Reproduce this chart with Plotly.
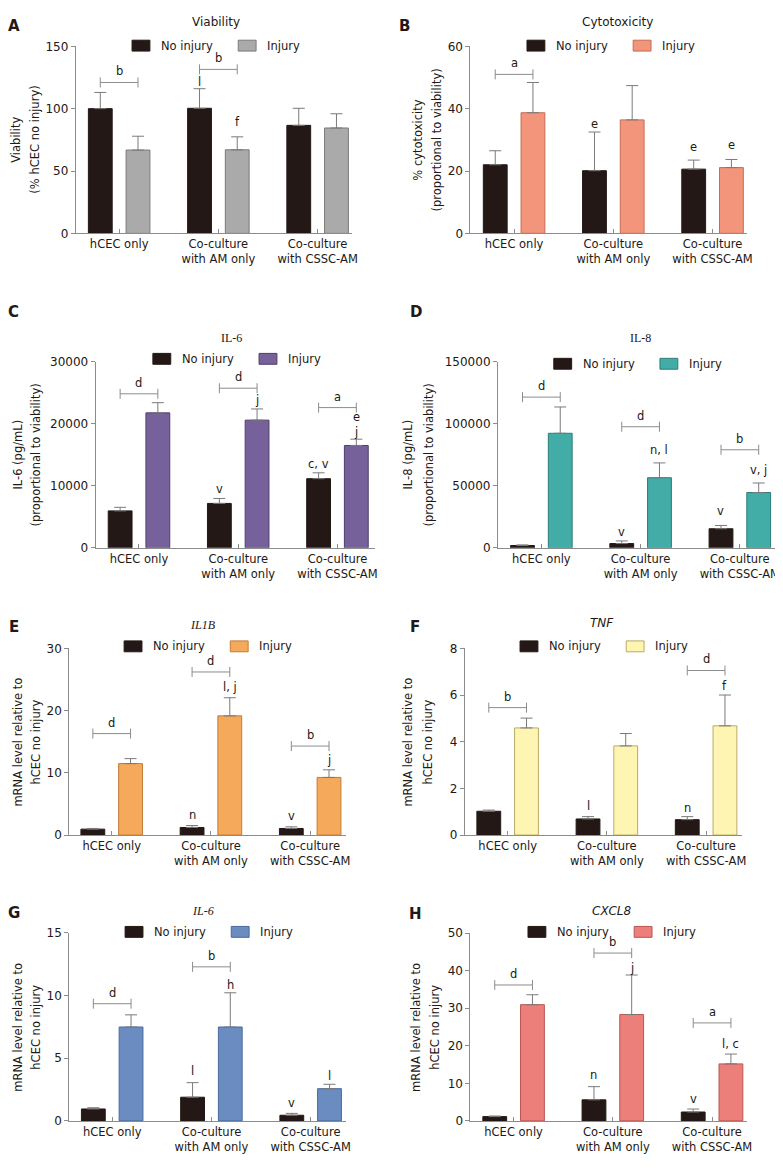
import plotly.graph_objects as go

W, H = 783, 1169

# ---------------- data ----------------
groups = ["hCEC only", "Co-culture<br>with AM only", "Co-culture<br>with CSSC-AM"]
series_names = ["No injury", "Injury"]

# A Viability
viab_noinj = [100.0, 100.3, 86.6]
viab_noinj_sd = [13.0, 15.7, 13.7]
viab_inj = [66.8, 67.0, 84.5]
viab_inj_sd = [11.1, 10.4, 11.4]

# B Cytotoxicity
cyto_noinj = [22.0, 20.1, 20.6]
cyto_noinj_sd = [4.5, 12.4, 2.9]
cyto_inj = [38.7, 36.4, 21.1]
cyto_inj_sd = [9.7, 11.0, 2.6]

# C IL-6 protein
il6p_noinj = [5950, 7150, 11130]
il6p_noinj_sd = [570, 800, 950]
il6p_inj = [21730, 20560, 16480]
il6p_inj_sd = [1640, 1800, 1010]

# D IL-8 protein
il8p_noinj = [1850, 3440, 15370]
il8p_noinj_sd = [530, 2120, 2650]
il8p_inj = [92210, 56440, 44520]
il8p_inj_sd = [21190, 11920, 7680]

# E IL1B mRNA
il1b_noinj = [0.95, 1.22, 1.06]
il1b_noinj_sd = [0.11, 0.31, 0.26]
il1b_inj = [11.48, 19.15, 9.26]
il1b_inj_sd = [0.80, 2.91, 1.22]

# F TNF mRNA
tnf_noinj = [1.02, 0.69, 0.66]
tnf_noinj_sd = [0.05, 0.10, 0.13]
tnf_inj = [4.59, 3.82, 4.68]
tnf_inj_sd = [0.42, 0.53, 1.32]

# G IL-6 mRNA
il6m_noinj = [0.95, 1.89, 0.45]
il6m_noinj_sd = [0.10, 1.16, 0.15]
il6m_inj = [7.49, 7.49, 2.57]
il6m_inj_sd = [0.97, 2.73, 0.35]

# H CXCL8 mRNA
cxcl8_noinj = [1.14, 5.61, 2.37]
cxcl8_noinj_sd = [0.16, 3.51, 0.79]
cxcl8_inj = [30.96, 28.33, 15.18]
cxcl8_inj_sd = [2.64, 10.53, 2.62]

# significance brackets: (group, level, label)
brk_A = [(0, 121, "b"), (1, 131.5, "b")]
brk_B = [(0, 51.0, "a")]
brk_C = [(0, 24800, "d"), (1, 25700, "d"), (2, 22580, "a")]
brk_D = [(0, 121330, "d"), (1, 97480, "d"), (2, 78940, "b")]
brk_E = [(0, 16.3, "d"), (1, 26.2, "d"), (2, 14.3, "b")]
brk_F = [(0, 5.46, "b"), (2, 7.05, "d")]
brk_G = [(0, 9.35, "d"), (1, 12.29, "b")]
brk_H = [(0, 36.2, "d"), (1, 44.7, "b"), (2, 26.1, "a")]

# letters above bars: (series, group, level, label)
lab_A = [(0, 1, 121, "l"), (1, 1, 89, "f")]
lab_B = [(0, 1, 35.2, "e"), (0, 2, 27.8, "e"), (1, 2, 28.3, "e")]
lab_C = [(1, 1, 23740, "j"), (0, 1, 9430, "v"), (0, 2, 13510, "c, v"),
         (1, 2, 21090, "e"), (1, 2, 18710, "j")]
lab_D = [(1, 1, 78940, "n, l"), (1, 2, 62500, "v, j"), (0, 1, 12720, "v"), (0, 2, 29680, "v")]
lab_E = [(1, 1, 23.8, "l, j"), (1, 2, 12.06, "j"), (0, 1, 3.28, "n"), (0, 2, 3.0, "v")]
lab_F = [(0, 1, 1.23, "l"), (0, 2, 1.16, "n"), (1, 2, 6.38, "f")]
lab_G = [(1, 1, 10.85, "h"), (0, 1, 3.97, "l"), (0, 2, 1.39, "v"), (1, 2, 3.55, "l")]
lab_H = [(1, 1, 40.8, "j"), (0, 1, 12.1, "n"), (1, 2, 20.4, "l, c"), (0, 2, 5.7, "v")]

# ---------------- styling / layout ----------------
BLACK = "#231815"
TXT = "#231815"
AX = "#8c8c8c"
FONT = "DejaVu Sans"
SERIF = "Liberation Serif"
FS = 11.5

panels = [
    dict(letter="A", title="Viability", tfont=FONT, titalic=False,
         ytitle=["Viability", "(% hCEC no injury)"], ymax=150, dtick=50,
         noinj=viab_noinj, noinj_sd=viab_noinj_sd, inj=viab_inj, inj_sd=viab_inj_sd,
         color="#aaaaaa", edge="#7a7a7a", brk=brk_A, lab=lab_A,
         l=68.3, r=346.7, t=31.7, b=221, g1=112,
         tpos=(210, 7), ytx=(8, 27), lpos=(125, 31), let=(6, 11)),
    dict(letter="B", title="Cytotoxicity", tfont=FONT, titalic=False,
         ytitle=["% cytotoxicity", "(proportional to viability)"], ymax=60, dtick=20,
         noinj=cyto_noinj, noinj_sd=cyto_noinj_sd, inj=cyto_inj, inj_sd=cyto_inj_sd,
         color="#f3957a", edge="#c46d55", brk=brk_B, lab=lab_B,
         l=466, r=745, t=31.7, b=221, g1=510,
         tpos=(614, 7), ytx=(413, 432), lpos=(523, 31), let=(400, 11)),
    dict(letter="C", title="IL-6", tfont=SERIF, titalic=False,
         ytitle=["IL-6 (pg/mL)", "(proportional to viability)"], ymax=30000, dtick=10000,
         noinj=il6p_noinj, noinj_sd=il6p_noinj_sd, inj=il6p_inj, inj_sd=il6p_inj_sd,
         color="#76619b", edge="#4e3f6d", brk=brk_C, lab=lab_C,
         l=88.3, r=370, t=350.7, b=539.3, g1=132,
         tpos=(225, 327), ytx=(10, 28), lpos=(146, 348), let=(6, 301)),
    dict(letter="D", title="IL-8", tfont=SERIF, titalic=False,
         ytitle=["IL-8 (pg/mL)", "(proportional to viability)"], ymax=150000, dtick=50000,
         noinj=il8p_noinj, noinj_sd=il8p_noinj_sd, inj=il8p_inj, inj_sd=il8p_inj_sd,
         color="#42aca7", edge="#2d7c78", brk=brk_D, lab=lab_D,
         l=493.7, r=774, t=350.7, b=539.3, g1=537.5,
         tpos=(637, 327), ytx=(403, 424), lpos=(550, 353), let=(411, 301)),
    dict(letter="E", title="IL1B", tfont=SERIF, titalic=True,
         ytitle=["mRNA level relative to", "hCEC no injury"], ymax=30, dtick=10,
         noinj=il1b_noinj, noinj_sd=il1b_noinj_sd, inj=il1b_inj, inj_sd=il1b_inj_sd,
         color="#f5a95b", edge="#c27b37", brk=brk_E, lab=lab_E,
         l=61.7, r=341, t=641, b=830, g1=104.5,
         tpos=(197, 617), ytx=(10, 28), lpos=(117, 639), let=(6, 619)),
    dict(letter="F", title="TNF", tfont=FONT, titalic=True,
         ytitle=["mRNA level relative to", "hCEC no injury"], ymax=8, dtick=2,
         noinj=tnf_noinj, noinj_sd=tnf_noinj_sd, inj=tnf_inj, inj_sd=tnf_inj_sd,
         color="#fff5b2", edge="#b9aa66", brk=brk_F, lab=lab_F,
         l=460.3, r=740, t=641, b=830, g1=503.5,
         tpos=(599, 615), ytx=(403, 423), lpos=(516, 639), let=(410, 619)),
    dict(letter="G", title="IL-6", tfont=SERIF, titalic=True,
         ytitle=["mRNA level relative to", "hCEC no injury"], ymax=15, dtick=5,
         noinj=il6m_noinj, noinj_sd=il6m_noinj_sd, inj=il6m_inj, inj_sd=il6m_inj_sd,
         color="#6b8cc1", edge="#4a6a9b", brk=brk_G, lab=lab_G,
         l=61.7, r=341, t=929, b=1119.3, g1=105,
         tpos=(197, 907), ytx=(10, 28), lpos=(118, 928), let=(6, 909)),
    dict(letter="H", title="CXCL8", tfont=FONT, titalic=True,
         ytitle=["mRNA level relative to", "hCEC no injury"], ymax=50, dtick=10,
         noinj=cxcl8_noinj, noinj_sd=cxcl8_noinj_sd, inj=cxcl8_inj, inj_sd=cxcl8_inj_sd,
         color="#ec7f79", edge="#b95651", brk=brk_H, lab=lab_H,
         l=466, r=745, t=929.3, b=1119.3, g1=509.5,
         tpos=(608, 907), ytx=(411, 430), lpos=(524, 928), let=(411, 910)),
]

OFF = 0.19   # bar offset from group centre (category units)
BW = 0.24    # bar width (category units)
GAP_PX = 100.0  # pixels per category unit

def px(x):
    return x / W

def py(y):
    return 1 - y / H

fig = go.Figure()
shapes = []
annots = []
xs = list(range(len(groups)))

for i, p in enumerate(panels, start=1):
    sfx = "" if i == 1 else str(i)
    xa, ya = "x" + sfx, "y" + sfx
    offsets = [-OFF, OFF]
    vals = [p["noinj"], p["inj"]]
    sds = [p["noinj_sd"], p["inj_sd"]]
    fills = [BLACK, p["color"]]
    edges = [BLACK, p["edge"]]
    for s in range(2):
        fig.add_trace(go.Bar(
            x=[g + offsets[s] for g in xs], y=vals[s], width=BW,
            name=series_names[s], showlegend=False,
            marker=dict(color=fills[s], line=dict(color=edges[s], width=1)),
            error_y=dict(type="data", array=sds[s], arrayminus=[0] * len(xs),
                         symmetric=False, color="#7a7a7a", thickness=1, width=6),
            xaxis=xa, yaxis=ya, hoverinfo="x+y"))
    x0 = -(p["g1"] - p["l"]) / GAP_PX
    x1 = x0 + (p["r"] - p["l"]) / GAP_PX
    fig.layout["xaxis" + sfx] = dict(
        domain=[px(p["l"]), px(p["r"])], anchor=ya, range=[x0, x1],
        tickmode="array", tickvals=xs, ticktext=groups,
        showline=True, linecolor=AX, linewidth=1, ticks="inside", ticklen=4,
        tickcolor=AX, showgrid=False, zeroline=False, fixedrange=True,
        tickfont=dict(family=FONT, size=FS, color=TXT))
    fig.layout["yaxis" + sfx] = dict(
        domain=[py(p["b"]), py(p["t"])], anchor=xa, range=[0, p["ymax"]],
        dtick=p["dtick"], tick0=0, tickformat="d",
        showline=True, linecolor=AX, linewidth=1, ticks="outside", ticklen=4,
        tickcolor=AX, showgrid=False, zeroline=False, fixedrange=True,
        tickfont=dict(family=FONT, size=FS + 0.5, color=TXT))

    # brackets
    for (g, lev, txt) in p["brk"]:
        xl, xr = g - OFF, g + OFF
        shapes.append(dict(type="line", xref=xa, yref=ya, x0=xl, x1=xr, y0=lev, y1=lev,
                           line=dict(color=AX, width=1)))
        for xe in (xl, xr):
            shapes.append(dict(type="line", xref=xa, yref=ya, x0=xe, x1=xe,
                               ysizemode="pixel", yanchor=lev, y0=-5, y1=5,
                               line=dict(color=AX, width=1)))
        annots.append(dict(x=g, y=lev, xref=xa, yref=ya, text=txt, showarrow=False,
                           yshift=11, xanchor="center", yanchor="middle",
                           font=dict(family=FONT, size=FS, color=TXT)))
    # letters above bars
    for (s, g, lev, txt) in p["lab"]:
        annots.append(dict(x=g + offsets[s], y=lev, xref=xa, yref=ya, text=txt,
                           showarrow=False, xanchor="center", yanchor="middle",
                           font=dict(family=FONT, size=FS, color=TXT)))

    # title
    ttxt = "<i>%s</i>" % p["title"] if p["titalic"] else p["title"]
    annots.append(dict(x=px(p["tpos"][0]), y=py(p["tpos"][1]), xref="paper", yref="paper",
                       text=ttxt, showarrow=False, xanchor="center", yanchor="middle",
                       font=dict(family=p["tfont"], size=FS + 0.5, color=TXT)))
    # panel letter
    annots.append(dict(x=px(p["let"][0]), y=py(p["let"][1]), xref="paper", yref="paper",
                       text="<b>%s</b>" % p["letter"], showarrow=False,
                       xanchor="center", yanchor="middle",
                       font=dict(family=FONT, size=15, color=TXT)))
    # y titles (two lines)
    ymid = (p["t"] + p["b"]) / 2
    for k, line in enumerate(p["ytitle"]):
        annots.append(dict(x=px(p["ytx"][k]), y=py(ymid), xref="paper", yref="paper",
                           text=line, showarrow=False, textangle=-90,
                           xanchor="center", yanchor="middle",
                           font=dict(family=FONT, size=FS, color=TXT)))
    # legend
    lx, ly = p["lpos"]
    for s, dx in enumerate([0, 107]):
        bx = lx + dx
        shapes.append(dict(type="rect", xref="paper", yref="paper",
                           x0=px(bx), x1=px(bx + 18), y0=py(ly + 5.5), y1=py(ly - 5.5),
                           fillcolor=fills[s], line=dict(color=edges[s], width=1)))
        annots.append(dict(x=px(bx + 27), y=py(ly), xref="paper", yref="paper",
                           text=series_names[s], showarrow=False,
                           xanchor="left", yanchor="middle",
                           font=dict(family=FONT, size=FS, color=TXT)))

fig.update_layout(
    width=W, height=H, margin=dict(l=0, r=0, t=0, b=0),
    paper_bgcolor="white", plot_bgcolor="white",
    showlegend=False, barmode="overlay",
    shapes=shapes, annotations=annots,
    font=dict(family=FONT, size=FS, color=TXT),
)

fig.write_html("out.html")
